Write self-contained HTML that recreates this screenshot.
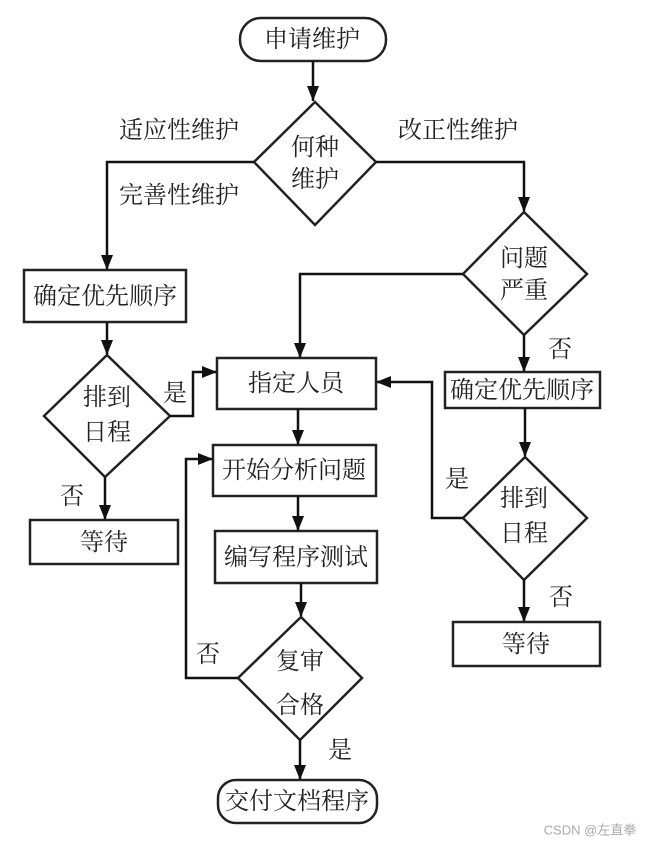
<!DOCTYPE html>
<html><head><meta charset="utf-8"><style>
html,body{margin:0;padding:0;background:#fff}
svg{display:block}
text{font-family:"Liberation Serif","Noto Serif CJK SC",serif;font-size:24px;fill:#222;text-anchor:middle;dominant-baseline:central}
</style></head><body>
<svg width="655" height="846" viewBox="0 0 655 846">
<g fill="none" stroke="#222" stroke-width="2.5">
<rect x="240" y="18" width="146" height="43" rx="21"/>
<polygon points="315,102 376,162 315,225 254,162"/>
<rect x="24" y="270" width="162" height="52"/>
<polygon points="524,212 587,274 524,335 463,274"/>
<rect x="445" y="372" width="155" height="36"/>
<rect x="217" y="358" width="159" height="51"/>
<polygon points="107,355 170,416 105,477 44,416"/>
<rect x="30" y="520" width="148" height="44"/>
<rect x="213" y="445" width="163" height="51"/>
<rect x="215" y="531" width="162" height="52"/>
<polygon points="301,617 362,678 300,740 238,678"/>
<rect x="218" y="780" width="159" height="43" rx="18"/>
<polygon points="525,457 587,518 524,580 463,518"/>
<rect x="453" y="622" width="147" height="44"/>
</g>
<g fill="none" stroke="#111" stroke-width="2.5">
<path d="M313,61 V101"/><path d="M254,162 H107 V269"/><path d="M376,162 H524 V211"/>
<path d="M463,274 H300 V357"/><path d="M524,335 V371"/><path d="M107,322 V354"/>
<path d="M170,416 H193 V372 H216"/><path d="M105,477 V519"/><path d="M298,409 V444"/>
<path d="M298,496 V530"/><path d="M301,583 V616"/><path d="M238,678 H186 V459 H212"/>
<path d="M300,740 V779"/><path d="M525,408 V456"/><path d="M463,518 H432 V382 H377"/>
<path d="M524,580 V621"/>
</g>
<g fill="#111">
<path d="M307,86 L319,86 L313,101z"/><path d="M101,255 L113,255 L107,270z"/><path d="M518,197 L530,197 L524,212z"/>
<path d="M294,343 L306,343 L300,358z"/><path d="M518,357 L530,357 L524,372z"/><path d="M101,340 L113,340 L107,355z"/>
<path d="M202,366 L202,378 L217,372z"/><path d="M99,505 L111,505 L105,520z"/><path d="M292,430 L304,430 L298,445z"/>
<path d="M292,516 L304,516 L298,531z"/><path d="M295,602 L307,602 L301,617z"/><path d="M198,453 L198,465 L213,459z"/>
<path d="M294,765 L306,765 L300,780z"/><path d="M519,442 L531,442 L525,457z"/><path d="M391,376 L391,388 L376,382z"/>
<path d="M518,607 L530,607 L524,622z"/>
</g>
<text x="312" y="40">申请维护</text>
<text x="315" y="148">何种</text><text x="315" y="180">维护</text>
<text x="179" y="131">适应性维护</text><text x="179" y="196">完善性维护</text><text x="458" y="131">改正性维护</text>
<text x="105" y="297">确定优先顺序</text>
<text x="524" y="259">问题</text><text x="524" y="291">严重</text>
<text x="560" y="350">否</text>
<text x="522" y="391">确定优先顺序</text>
<text x="296" y="384">指定人员</text>
<text x="107" y="398">排到</text><text x="107" y="433">日程</text>
<text x="175" y="394">是</text>
<text x="72" y="497">否</text>
<text x="104" y="543">等待</text>
<text x="294" y="471">开始分析问题</text>
<text x="296" y="558">编写程序测试</text>
<text x="300" y="662">复审</text><text x="300" y="706">合格</text>
<text x="208" y="655">否</text>
<text x="340" y="751">是</text>
<text x="297" y="802">交付文档程序</text>
<text x="457" y="480">是</text>
<text x="524" y="499">排到</text><text x="524" y="534">日程</text>
<text x="561" y="598">否</text>
<text x="526" y="645">等待</text>
<text x="590" y="830" style="font-family:'Liberation Sans','Noto Sans CJK SC',sans-serif;font-size:13px;fill:#aaa">CSDN @左直拳</text>
</svg>
</body></html>
